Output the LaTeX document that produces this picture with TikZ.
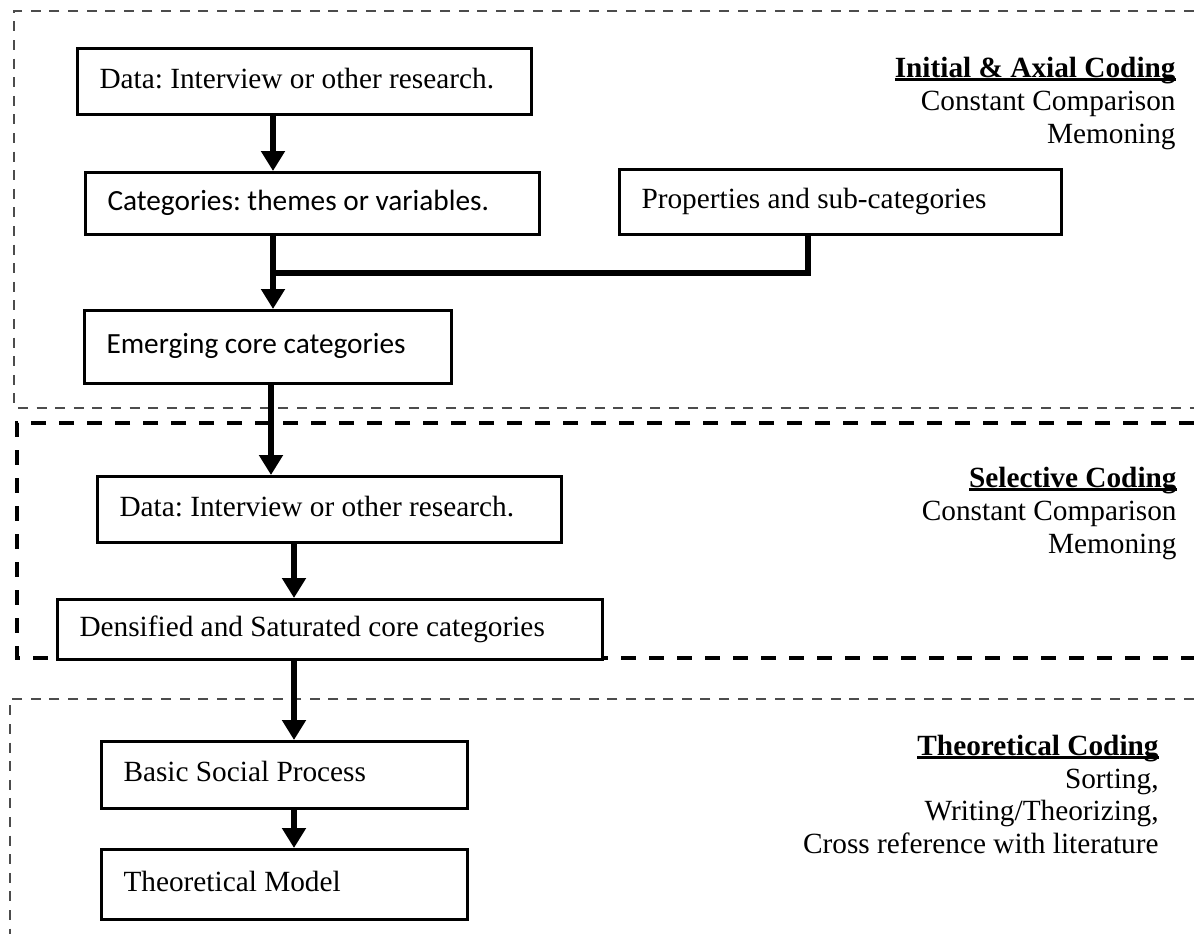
\documentclass[tikz,border=0pt]{standalone}
\usepackage{fontspec}
\setmainfont{Liberation Serif}
\newfontfamily\calibrilike{Carlito}
\usetikzlibrary{arrows.meta}

% text size used throughout the chart
\newcommand{\chartsize}{\fontsize{14.65}{16.5}\selectfont\frenchspacing}
% bold heading with a rule just under the baseline
\newcommand{\ulhead}[1]{\setbox0\hbox{\bfseries #1}\rlap{\rule[-1.9pt]{\wd0}{1.4pt}}\box0}

\begin{document}
\begin{tikzpicture}[x=0.5pt, y=-0.5pt,
  box/.style={draw, line width=1.5pt, fill=white, anchor=north west,
    inner xsep=11pt, inner ysep=0pt, align=flush left,
    text height=10.3pt, text depth=3.7pt, font=\chartsize},
  sansbox/.style={box, font=\chartsize\calibrilike},
  arrowline/.style={line width=3.25pt, -{Triangle[width=11.5pt,length=10pt]}},
  joinline/.style={line width=3.25pt},
  thinpanel/.style={draw=black!70, line width=0.8pt, dash pattern=on 5pt off 4.3pt},
  thickpanel/.style={draw=black, line width=2pt, dash pattern=on 7.5pt off 6.5pt},
  lbl/.style={anchor=base east, inner sep=0pt, font=\chartsize}]

\useasboundingbox (0,0) rectangle (1194,934);

% stage panels
\draw[thinpanel] (1194,11) -- (14,11) -- (14,408) -- (1194,408);
\draw[thickpanel] (1194,423) -- (17,423) -- (17,658) -- (1194,658);
\draw[thinpanel] (1194,699) -- (10,699) -- (10,934);

% process boxes
\node[box, minimum width=227pt, minimum height=33pt, text width=205pt] (A) at (76,47) {Data: Interview or other research.};
\node[sansbox, minimum width=227pt, minimum height=31pt, text width=205pt] (B) at (84,171) {Categories: themes or variables.};
\node[box, minimum width=221pt, minimum height=32.5pt, text width=199pt] (P) at (618,168) {Properties and sub-categories};
\node[sansbox, minimum width=183.5pt, minimum height=36.5pt, text width=161.5pt] (C) at (83,309) {Emerging core categories};
\node[box, minimum width=232pt, minimum height=33pt, text width=210pt] (D) at (96,475) {Data: Interview or other research.};
\node[box, minimum width=272.5pt, minimum height=30pt, text width=250.5pt] (E) at (56,598) {Densified and Saturated core categories};
\node[box, minimum width=183pt, minimum height=33.5pt, text width=161pt] (F) at (100,740) {Basic Social Process};
\node[box, minimum width=183pt, minimum height=35pt, text width=161pt] (G) at (100,848) {Theoretical Model};

% connector spines
\coordinate (s1) at (273,0);
\coordinate (s2) at (271,0);
\coordinate (s3) at (294,0);
\coordinate (s4) at (808,0);
\coordinate (jn) at (273,273);

\draw[arrowline] (A.south -| s1) -- (B.north -| s1);
\draw[arrowline] (B.south -| s1) -- (C.north -| s1);
\draw[joinline] (P.south -| s4) |- (jn);
\draw[arrowline] (C.south -| s2) -- (D.north -| s2);
\draw[arrowline] (D.south -| s3) -- (E.north -| s3);
\draw[arrowline] (E.south -| s3) -- (F.north -| s3);
\draw[arrowline] (F.south -| s3) -- (G.north -| s3);

% stage descriptions
\node[lbl] (h1) at (1176,77) {\ulhead{Initial \& Axial Coding}};
\node[lbl] (h1a) at (1176,110) {Constant Comparison};
\node[lbl] (h1b) at (1176,143) {Memoning};

\node[lbl] (h2) at (1177,487) {\ulhead{Selective Coding}};
\node[lbl] (h2a) at (1177,520) {Constant Comparison};
\node[lbl] (h2b) at (1177,553) {Memoning};

\node[lbl] (h3) at (1159,755) {\ulhead{Theoretical Coding}};
\node[lbl] (h3a) at (1159,788) {Sorting,};
\node[lbl] (h3b) at (1159,820) {Writing/Theorizing,};
\node[lbl] (h3c) at (1159,853) {Cross reference with literature};
\end{tikzpicture}
\end{document}
